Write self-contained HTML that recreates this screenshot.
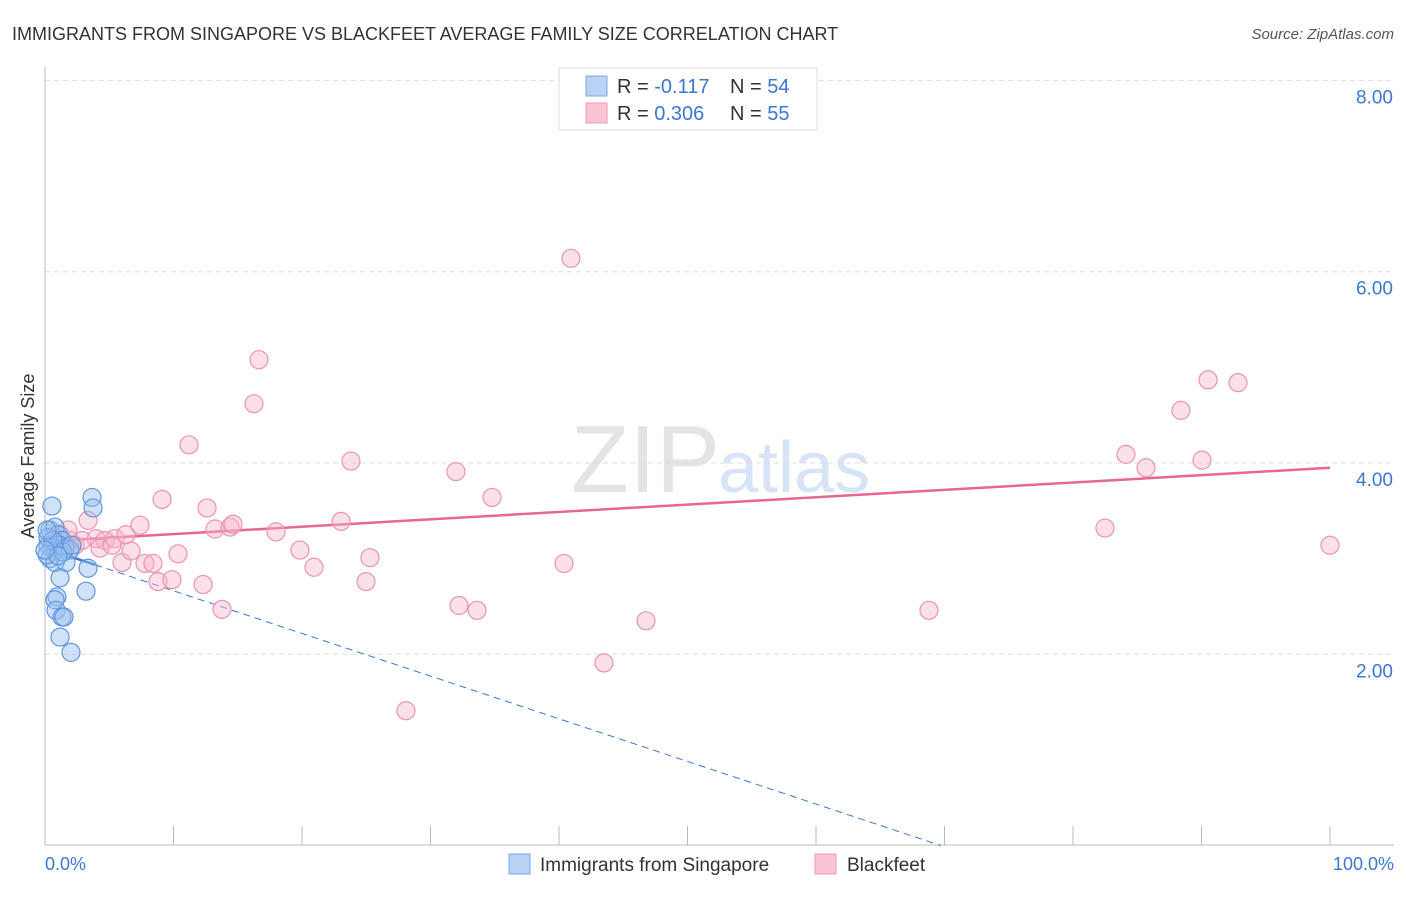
<!DOCTYPE html>
<html><head><meta charset="utf-8"><style>
body{margin:0;background:#fff;font-family:"Liberation Sans",sans-serif;}
svg text{font-family:"Liberation Sans",sans-serif;}
</style></head><body>
<svg id="chart" width="1406" height="892" xmlns="http://www.w3.org/2000/svg">
<text x="12" y="40" font-size="18" fill="#333">IMMIGRANTS FROM SINGAPORE VS BLACKFEET AVERAGE FAMILY SIZE CORRELATION CHART</text>
<text x="1394" y="39" font-size="15" fill="#555" font-style="italic" text-anchor="end">Source: ZipAtlas.com</text>
<text x="720" y="492" font-size="96" fill="#e4e4e4" text-anchor="end" font-family="Liberation Serif">ZIP</text>
<text x="718" y="492" font-size="72" fill="#d6e4f5">atlas</text>
<g id="grid"></g>
<g id="axes"></g>
<text transform="translate(34,456) rotate(-90)" font-size="18" fill="#333" text-anchor="middle">Average Family Size</text>
<g id="lines"></g>
<g id="points"></g>
<g>
<rect x="559" y="68" width="258" height="62" fill="#fff" stroke="#ddd"/>
<rect x="586" y="76" width="21" height="20" fill="#b9d3f5" stroke="#7aa8e6"/>
<rect x="586" y="103" width="21" height="20" fill="#f9c4d3" stroke="#ee9ab5"/>
<text x="617" y="93" font-size="20" fill="#333">R = <tspan fill="#3a78d4">-0.117</tspan></text>
<text x="730" y="93" font-size="20" fill="#333">N = <tspan fill="#3a78d4">54</tspan></text>
<text x="617" y="120" font-size="20" fill="#333">R = <tspan fill="#3a78d4">0.306</tspan></text>
<text x="730" y="120" font-size="20" fill="#333">N = <tspan fill="#3a78d4">55</tspan></text>
</g>
<g>
<rect x="509" y="854" width="21" height="20" fill="#b9d3f5" stroke="#7aa8e6"/>
<text x="540" y="871" font-size="19" fill="#333">Immigrants from Singapore</text>
<rect x="815" y="854" width="21" height="20" fill="#f9c4d3" stroke="#ee9ab5"/>
<text x="847" y="871" font-size="19" fill="#333">Blackfeet</text>
</g>
<text x="45" y="870" font-size="18" fill="#3a78d4">0.0%</text>
<text x="1394" y="870" font-size="18" fill="#3a78d4" text-anchor="end">100.0%</text>
</svg>
<script>
const yTicks=[2,4,6,8];
const yTickLabels=["2.00","4.00","6.00","8.00"];
const xTickPct=[0,10,20,30,40,50,60,70,80,90,100];
const blueX=[0.54,3.66,3.74,0.39,0.78,1.01,1.32,0.23,0.54,0.86,1.17,1.56,1.95,0.39,0.78,1.63,3.35,1.17,0.93,0.78,0.86,1.32,1.48,1.17,2.02,3.19,0.23,0.62,1.40,0.16,0.16,1.01,2.10,0];
const blueY=[3.55,3.64,3.53,3.30,3.33,3.25,3.19,3.14,3.11,3.09,3.14,3.11,3.09,3.00,2.96,2.96,2.90,2.80,2.60,2.57,2.46,2.39,2.39,2.18,2.02,2.66,3.22,3.19,3.07,3.30,3.04,3.03,3.14,3.09];
const pinkX=[3.35,3.97,4.67,5.45,5.99,6.30,6.69,7.39,7.78,8.40,8.79,9.11,9.88,10.35,11.21,12.30,12.61,13.23,13.77,14.40,14.63,16.26,16.65,17.98,19.84,20.93,23.04,23.81,24.98,25.29,28.09,31.98,32.22,33.62,34.79,40.39,40.93,43.50,46.77,68.79,82.49,84.12,85.68,88.40,90.04,90.51,92.84,100,1.17,1.95,2.33,4.28,5.21,2.88,1.79];
const pinkY=[3.40,3.21,3.19,3.21,2.96,3.25,3.08,3.35,2.95,2.95,2.76,3.62,2.78,3.05,4.19,2.73,3.53,3.31,2.47,3.33,3.36,4.62,5.08,3.28,3.09,2.91,3.39,4.02,2.76,3.01,1.41,3.91,2.51,2.46,3.64,2.95,6.14,1.91,2.35,2.46,3.32,4.09,3.95,4.55,4.03,4.87,4.84,3.14,3.25,3.19,3.14,3.11,3.14,3.19,3.30];
const blueTrend=[3.11,-1.35];
const pinkTrend=[3.18,3.95];
const NS="http://www.w3.org/2000/svg";
const X=p=>45+p*12.85, Y=v=>845.6-v*95.65;
function mk(t,a,parent){const e=document.createElementNS(NS,t);for(const k in a)e.setAttribute(k,a[k]);document.getElementById(parent).appendChild(e);return e;}
yTicks.forEach((v,i)=>{
 const l=mk('line',{x1:45,x2:1394,y1:Y(v),y2:Y(v),stroke:'#ddd','stroke-dasharray':'5,4'},'grid');
 
 
 const t=mk('text',{x:1393,y:Y(v)+23,'font-size':19,fill:'#3a78d4','text-anchor':'end'},'axes');
 t.textContent=yTickLabels[i];
 
 
});
const ya=mk('line',{x1:45,x2:45,y1:67,y2:845,stroke:'#bbb'},'axes');


const xa=mk('line',{x1:45,x2:1394,y1:845,y2:845,stroke:'#bbb'},'axes');


xTickPct.forEach(p=>{
 const t=mk('line',{x1:X(p),x2:X(p),y1:826,y2:845,stroke:'#bbb'},'axes');
 
 
});
// trend lines
const bxEnd=3.9;
const bAt=p=>blueTrend[0]+(blueTrend[1]-blueTrend[0])*p/100;
let zeroP=blueTrend[0]/(blueTrend[0]-blueTrend[1])*100;
const bd=mk('line',{x1:X(bxEnd),y1:Y(bAt(bxEnd)),x2:X(zeroP),y2:Y(0),stroke:'#3a78d4','stroke-width':1,'stroke-dasharray':'7,5'},'lines');


const bs=mk('line',{x1:X(0),y1:Y(bAt(0)),x2:X(bxEnd),y2:Y(bAt(bxEnd)),stroke:'#3a78d4','stroke-width':2.5},'lines');


const pl=mk('line',{x1:X(0),y1:Y(pinkTrend[0]),x2:X(100),y2:Y(pinkTrend[1]),stroke:'#e8668f','stroke-width':2.5},'lines');


pinkX.forEach((p,i)=>{
 const c=mk('circle',{cx:X(p),cy:Y(pinkY[i]),r:9,fill:'rgba(248,182,202,0.42)',stroke:'#eb93b0','stroke-width':1.2},'points');
 
 
});
blueX.forEach((p,i)=>{
 const c=mk('circle',{cx:X(p),cy:Y(blueY[i]),r:9,fill:'rgba(150,190,240,0.45)',stroke:'#5f96dd','stroke-width':1.2},'points');
 
 
});
</script>
</body></html>
